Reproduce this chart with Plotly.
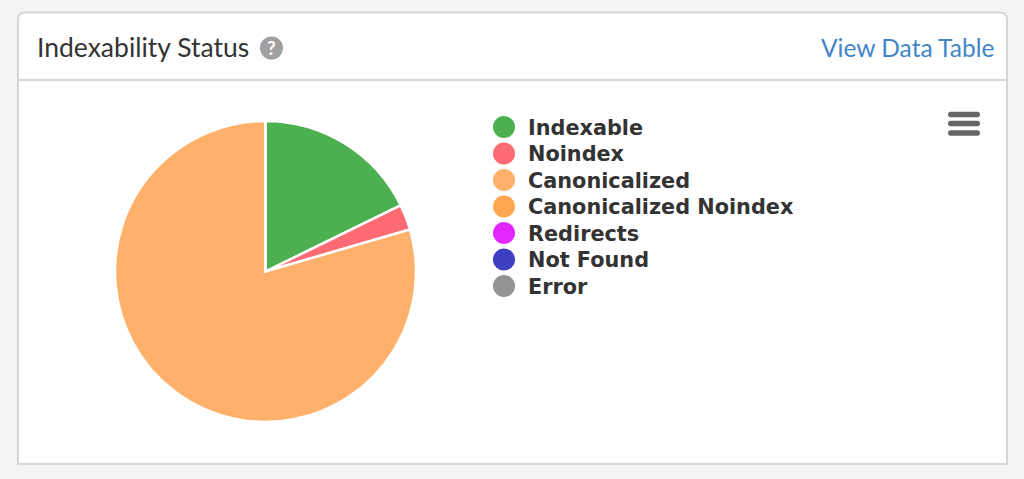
import plotly.graph_objects as go

categories = ["Indexable", "Noindex", "Canonicalized", "Canonicalized Noindex", "Redirects", "Not Found", "Error"]
values = [17.75, 2.75, 79.5, 0, 0, 0, 0]
colors = ["#4CAF50", "#FF6B75", "#FFB06B", "#FFA64F", "#E327FF", "#3F3FC4", "#939393"]
W, H = 1024, 479


def px(x):
    return x / W


def py(y):
    return 1 - y / H


fig = go.Figure()
fig.add_trace(go.Pie(
    labels=categories, values=values, sort=False, direction="clockwise", rotation=0,
    marker=dict(colors=colors, line=dict(color="#ffffff", width=2.5)),
    textinfo="none", showlegend=False,
    domain=dict(x=[px(115), px(416)], y=[py(422), py(121)]),
))
# Legend drawn on hidden categorical axes so rows keep the reference's tight spacing
fig.add_trace(go.Scatter(
    x=[0] * len(categories), y=categories, mode="markers", showlegend=False, cliponaxis=False,
    marker=dict(color=colors, size=22, symbol="circle"), hoverinfo="y",
))
fig.add_trace(go.Scatter(
    x=[1] * len(categories), y=categories, mode="text", text=categories, showlegend=False,
    textposition="middle right", cliponaxis=False, hoverinfo="skip", yaxis="y2",
    textfont=dict(family="DejaVu Sans", size=20.8, color="#333333", weight="bold"),
))

l, t, r, b, rad = 18, 12.5, 1007, 464, 7
card = (f"M {px(l + rad)} {py(t)} L {px(r - rad)} {py(t)} Q {px(r)} {py(t)} {px(r)} {py(t + rad)} "
        f"L {px(r)} {py(b)} L {px(l)} {py(b)} L {px(l)} {py(t + rad)} Q {px(l)} {py(t)} {px(l + rad)} {py(t)} Z")
shapes = [
    dict(type="path", xref="paper", yref="paper", path=card, fillcolor="#ffffff",
         line=dict(color="#D6D6D6", width=2), layer="below"),
    dict(type="line", xref="paper", yref="paper", x0=px(l), x1=px(r), y0=py(80), y1=py(80),
         line=dict(color="#D6D6D6", width=2), layer="below"),
    dict(type="circle", xref="paper", yref="paper", x0=px(260), x1=px(283), y0=py(36.5), y1=py(59.5),
         fillcolor="#A0A0A0", line=dict(width=0), layer="below"),
]
for y in (114.5, 123.5, 133):
    x0, x1, h = 948, 980, 2.8
    path = (f"M {px(x0 + h)} {py(y - h)} L {px(x1 - h)} {py(y - h)} Q {px(x1)} {py(y - h)} {px(x1)} {py(y)} "
            f"Q {px(x1)} {py(y + h)} {px(x1 - h)} {py(y + h)} L {px(x0 + h)} {py(y + h)} "
            f"Q {px(x0)} {py(y + h)} {px(x0)} {py(y)} Q {px(x0)} {py(y - h)} {px(x0 + h)} {py(y - h)} Z")
    shapes.append(dict(type="path", xref="paper", yref="paper", path=path, fillcolor="#666666", line=dict(width=0)))

annotations = [
    dict(text="Indexability Status", x=px(35), y=py(47.5), xanchor="left", yanchor="middle",
         font=dict(family="Lato", size=26.5, color="#333333")),
    dict(text="?", x=px(271.5), y=py(47.5), xanchor="center", yanchor="middle",
         font=dict(family="Lato", size=19, color="#ffffff", weight="bold")),
    dict(text="View Data Table", x=px(996), y=py(47.5), xanchor="right", yanchor="middle",
         font=dict(family="Lato", size=24.5, color="#4285C6")),
]
for a in annotations:
    a.update(xref="paper", yref="paper", showarrow=False)

fig.update_layout(
    width=W, height=H, autosize=False,
    margin=dict(l=0, r=0, t=0, b=0),
    paper_bgcolor="#F4F4F4", plot_bgcolor="rgba(0,0,0,0)",
    xaxis=dict(visible=False, domain=[px(504), px(528)], range=[0, 1], fixedrange=True),
    yaxis=dict(visible=False, domain=[py(286), py(127)], type="category",
               categoryorder="array", categoryarray=categories, range=[6, 0], fixedrange=True),
    yaxis2=dict(visible=False, domain=[py(288.5), py(129.5)], type="category", anchor="x",
                categoryorder="array", categoryarray=categories, range=[6, 0], fixedrange=True),
    shapes=shapes, annotations=annotations,
    showlegend=False,
)
fig.write_html("out.html", config=dict(displayModeBar=False),
               post_script="document.body.style.margin='0';document.body.style.overflow='hidden';")
